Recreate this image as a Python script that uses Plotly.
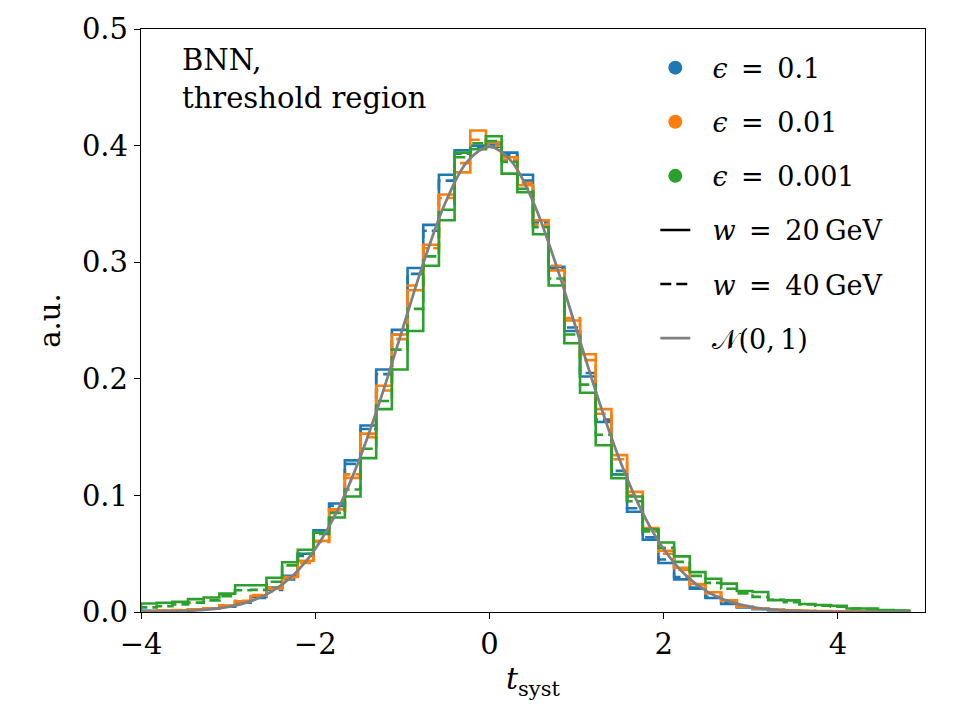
import plotly.graph_objects as go

# ---------------- data ----------------
bin_edges = [-4.00, -3.82, -3.64, -3.46, -3.28, -3.10, -2.92, -2.74, -2.56, -2.38,
             -2.20, -2.02, -1.84, -1.66, -1.48, -1.30, -1.12, -0.94, -0.76, -0.58,
             -0.40, -0.22, -0.04, 0.14, 0.32, 0.50, 0.68, 0.86, 1.04, 1.22,
             1.40, 1.58, 1.76, 1.94, 2.12, 2.30, 2.48, 2.66, 2.84, 3.02,
             3.20, 3.38, 3.56, 3.74, 3.92, 4.10, 4.28, 4.46, 4.64, 4.82]

eps01_w20 = [0.0010, 0.0010, 0.0015, 0.0020, 0.0030, 0.0050, 0.0090, 0.0130, 0.0210, 0.0310,
             0.0500, 0.0700, 0.0930, 0.1300, 0.1600, 0.2080, 0.2420, 0.2950, 0.3320, 0.3750,
             0.3960, 0.4000, 0.4010, 0.3940, 0.3750, 0.3360, 0.2960, 0.2410, 0.2020, 0.1630,
             0.1180, 0.0860, 0.0620, 0.0420, 0.0280, 0.0200, 0.0120, 0.0070, 0.0040, 0.0025,
             0.0015, 0.0010, 0.0006, 0.0004, 0.0003, 0.0002, 0.0001, 0.0001, 0.0000]
eps01_w40 = [0.0008, 0.0010, 0.0012, 0.0020, 0.0030, 0.0045, 0.0080, 0.0120, 0.0190, 0.0280,
             0.0480, 0.0680, 0.0910, 0.1270, 0.1570, 0.2040, 0.2380, 0.2900, 0.3270, 0.3700,
             0.3930, 0.3980, 0.3990, 0.3920, 0.3700, 0.3340, 0.2940, 0.2440, 0.2050, 0.1650,
             0.1210, 0.0890, 0.0640, 0.0450, 0.0300, 0.0210, 0.0130, 0.0080, 0.0045, 0.0028,
             0.0017, 0.0011, 0.0007, 0.0005, 0.0003, 0.0002, 0.0001, 0.0001, 0.0000]
eps001_w20 = [0.0005, 0.0010, 0.0015, 0.0020, 0.0030, 0.0055, 0.0090, 0.0140, 0.0200, 0.0300,
              0.0440, 0.0610, 0.0880, 0.1150, 0.1530, 0.1940, 0.2380, 0.2760, 0.3150, 0.3580,
              0.3770, 0.4130, 0.4030, 0.3900, 0.3660, 0.3360, 0.2930, 0.2500, 0.2210, 0.1740,
              0.1345, 0.1030, 0.0720, 0.0525, 0.0380, 0.0240, 0.0170, 0.0100, 0.0045, 0.0030,
              0.0020, 0.0015, 0.0010, 0.0008, 0.0006, 0.0004, 0.0003, 0.0002, 0.0001]
eps001_w40 = [0.0006, 0.0010, 0.0016, 0.0022, 0.0032, 0.0058, 0.0095, 0.0145, 0.0210, 0.0290,
              0.0420, 0.0600, 0.0860, 0.1180, 0.1500, 0.1900, 0.2340, 0.2800, 0.3120, 0.3550,
              0.3850, 0.4050, 0.4000, 0.3880, 0.3680, 0.3320, 0.2970, 0.2520, 0.2160, 0.1700,
              0.1310, 0.1000, 0.0700, 0.0500, 0.0360, 0.0230, 0.0160, 0.0095, 0.0050, 0.0030,
              0.0020, 0.0014, 0.0010, 0.0007, 0.0005, 0.0004, 0.0003, 0.0002, 0.0001]
eps0001_w20 = [0.0073, 0.0079, 0.0087, 0.0110, 0.0124, 0.0158, 0.0229, 0.0229, 0.0294, 0.0427,
               0.0534, 0.0680, 0.0810, 0.0990, 0.1320, 0.1740, 0.2080, 0.2410, 0.2970, 0.3360,
               0.3940, 0.3970, 0.4080, 0.3760, 0.3600, 0.3240, 0.2800, 0.2305, 0.1880, 0.1430,
               0.1147, 0.0990, 0.0710, 0.0596, 0.0477, 0.0342, 0.0285, 0.0243, 0.0180, 0.0172,
               0.0102, 0.0100, 0.0068, 0.0060, 0.0054, 0.0030, 0.0030, 0.0017, 0.0012]
eps0001_w40 = [0.0040, 0.0050, 0.0065, 0.0080, 0.0100, 0.0135, 0.0186, 0.0190, 0.0260, 0.0400,
               0.0500, 0.0670, 0.0850, 0.1050, 0.1400, 0.1810, 0.2250, 0.2600, 0.3050, 0.3450,
               0.3900, 0.4020, 0.4040, 0.3860, 0.3630, 0.3300, 0.2860, 0.2380, 0.1950, 0.1520,
               0.1180, 0.0950, 0.0690, 0.0550, 0.0430, 0.0310, 0.0250, 0.0200, 0.0160, 0.0130,
               0.0105, 0.0085, 0.0065, 0.0055, 0.0045, 0.0030, 0.0025, 0.0015, 0.0010]

normal_x = [-4.0, -3.75, -3.5, -3.25, -3.0, -2.75, -2.5, -2.25, -2.0, -1.75, -1.5, -1.25,
            -1.0, -0.75, -0.5, -0.25, 0.0, 0.25, 0.5, 0.75, 1.0, 1.25, 1.5, 1.75,
            2.0, 2.25, 2.5, 2.75, 3.0, 3.25, 3.5, 3.75, 4.0, 4.25, 4.5, 4.82]
normal_y = [0.0001, 0.0004, 0.0009, 0.0020, 0.0044, 0.0091, 0.0175, 0.0317, 0.0540, 0.0863,
            0.1295, 0.1826, 0.2420, 0.3011, 0.3521, 0.3867, 0.3989, 0.3867, 0.3521, 0.3011,
            0.2420, 0.1826, 0.1295, 0.0863, 0.0540, 0.0317, 0.0175, 0.0091, 0.0044, 0.0020,
            0.0009, 0.0004, 0.0001, 0.0000, 0.0000, 0.0000]

SP = "\u00a0\u00a0"       # gap between legend symbol and text
EQ = "\u2002=\u2002"      # math-style spacing around '='
eps_labels = [SP + "<i>ϵ</i>" + EQ + "0.1",
              SP + "<i>ϵ</i>" + EQ + "0.01",
              SP + "<i>ϵ</i>" + EQ + "0.001"]
w_labels = [SP + "<i>w</i>" + EQ + "20\u2009GeV",
            SP + "<i>w</i>" + EQ + "40\u2009GeV"]
normal_label = SP + "𝒩(0,\u20091)"
colors = ["#1f77b4", "#ff7f0e", "#2ca02c"]

series = [
    (eps01_w20, eps01_w40),
    (eps001_w20, eps001_w40),
    (eps0001_w20, eps0001_w40),
]

FONT = "DejaVu Serif"
DASH = "11px,5px"
LW = 2.6

fig = go.Figure()

def step_xy(values):
    xs = [bin_edges[0]] + bin_edges[:len(values)] + [bin_edges[len(values)]]
    ys = [0.0] + list(values) + [0.0]
    return xs, ys

for col, (s20, s40) in zip(colors, series):
    for vals, dash in ((s20, "solid"), (s40, DASH)):
        xs, ys = step_xy(vals)
        fig.add_trace(go.Scatter(x=xs, y=ys, mode="lines", line_shape="hv",
                                 line=dict(color=col, width=LW, dash=dash),
                                 showlegend=False, hoverinfo="skip"))

fig.add_trace(go.Scatter(x=normal_x, y=normal_y, mode="lines", line_shape="spline",
                         line=dict(color="#808080", width=2.8), showlegend=False))

# legend entries
for i, (lab, col) in enumerate(zip(eps_labels, colors)):
    fig.add_trace(go.Scatter(x=[None], y=[None], mode="markers", name=lab,
                             marker=dict(color=col, size=14), legendgroup=f"g{i}"))
fig.add_trace(go.Scatter(x=[None], y=[None], mode="lines", name=w_labels[0],
                         line=dict(color="black", width=2.6), legendgroup="g3"))
fig.add_trace(go.Scatter(x=[None], y=[None], mode="lines", name=w_labels[1],
                         line=dict(color="black", width=2.6, dash=DASH), legendgroup="g4"))
fig.add_trace(go.Scatter(x=[None], y=[None], mode="lines", name=normal_label,
                         line=dict(color="#808080", width=2.8), legendgroup="g5"))

fig.add_annotation(text="BNN,<br>threshold region", xref="paper", yref="paper",
                   x=0.05, y=0.98, xanchor="left", yanchor="top", align="left",
                   showarrow=False, font=dict(family=FONT, size=29, color="black"))

axis_common = dict(showline=True, linecolor="black", linewidth=1.3, mirror=True,
                   ticks="outside", ticklen=6, tickwidth=1.3, tickcolor="black",
                   showgrid=False, zeroline=False,
                   tickfont=dict(family=FONT, size=29, color="black"))

fig.update_layout(
    width=960, height=720,
    margin=dict(l=141, r=35, t=21, b=108),
    paper_bgcolor="white", plot_bgcolor="white",
    font=dict(family=FONT, color="black"),
    xaxis=dict(range=[-4, 5], tickvals=[-4, -2, 0, 2, 4], ticktext=["−4", "−2", "0", "2", "4"],
               title=dict(text="<i>t</i><sub>syst</sub>", font=dict(family=FONT, size=30), standoff=8),
               **axis_common),
    yaxis=dict(range=[0, 0.5], tickvals=[0, 0.1, 0.2, 0.3, 0.4, 0.5],
               ticktext=["0.0", "0.1", "0.2", "0.3", "0.4", "0.5"],
               title=dict(text="a.u.", font=dict(family=FONT, size=29), standoff=12),
               **axis_common),
    legend=dict(x=0.656, y=0.975, xanchor="left", yanchor="top", bgcolor="rgba(0,0,0,0)",
                font=dict(family=FONT, size=27, color="black"), tracegroupgap=16,
                itemwidth=30),
)

fig.write_html("out.html")
